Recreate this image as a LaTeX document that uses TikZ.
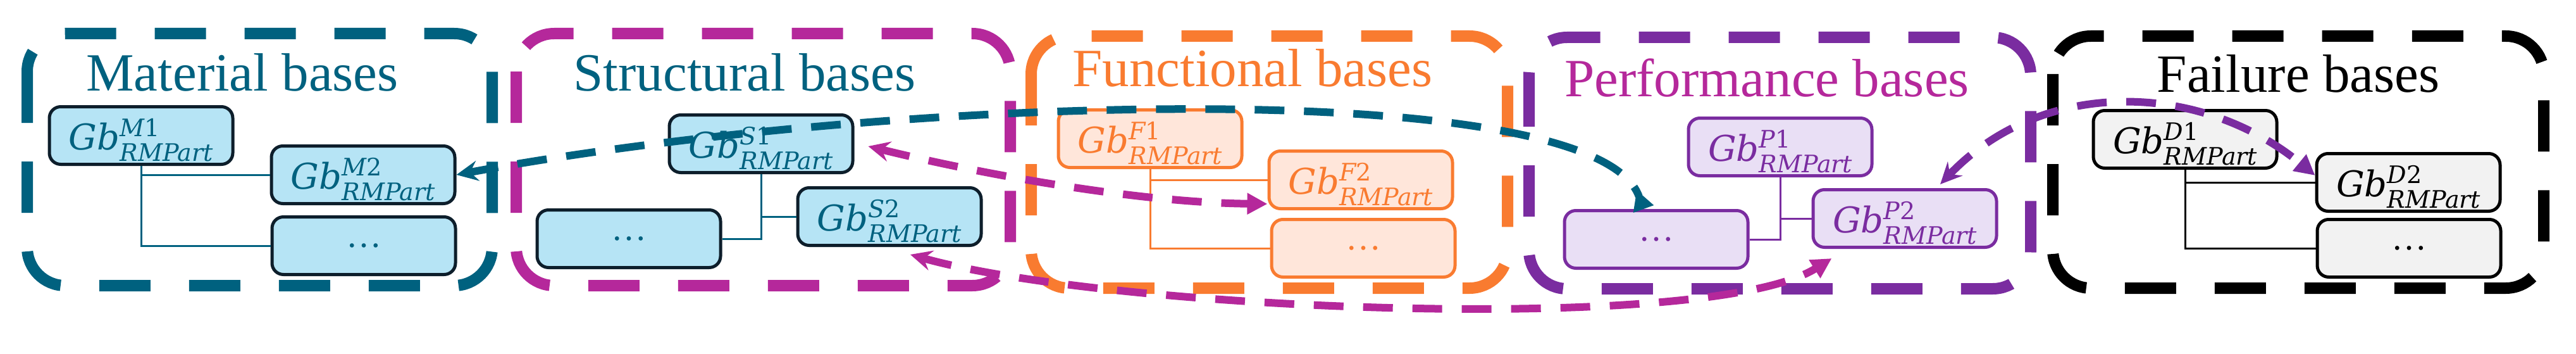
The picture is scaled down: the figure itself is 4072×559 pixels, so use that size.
\documentclass[tikz,border=0pt]{standalone}
\usepackage{fontspec}
\setmainfont{Liberation Serif}
\newfontfamily\gbfont{DejaVu Serif}
\usetikzlibrary{arrows.meta}

\definecolor{tealc}{HTML}{00617F}
\definecolor{magc}{HTML}{B5289B}
\definecolor{orgc}{HTML}{F97B30}
\definecolor{purc}{HTML}{7A2CA0}
\definecolor{navyc}{HTML}{0D1E2B}
\definecolor{bluefill}{HTML}{B6E4F5}
\definecolor{orgfill}{HTML}{FFE6DA}
\definecolor{purfill}{HTML}{E9DFF5}
\definecolor{greyfill}{HTML}{F2F2F2}

% Gb with superscript (letter, digit) and subscript RMPart
\newcommand{\gbsym}[2]{{\gbfont\fontsize{56}{60}\selectfont\itshape Gb\fontsize{38}{40}\selectfont
    \rlap{\raisebox{21pt}{#1\upshape #2}}\raisebox{-18pt}{RMPart}}}

\begin{document}
\begin{tikzpicture}[x=1pt, y=-1pt,
    group/.style={line width=18pt, dash pattern=on 81pt off 61pt, rounded corners=60pt},
    title/.style={font=\fontsize{85}{100}\selectfont, anchor=base, inner sep=0pt},
    basebox/.style={rounded corners=18pt, minimum width=290pt, minimum height=91pt,
        inner sep=0pt, line width=5pt, font=\fontsize{56}{60}\selectfont},
    gbbox/.style={basebox, text height=44pt, text depth=0pt},
    matbox/.style={fill=bluefill, draw=navyc, text=tealc},
    funbox/.style={fill=orgfill, draw=orgc, text=orgc},
    perbox/.style={fill=purfill, draw=purc, text=purc},
    failbox/.style={fill=greyfill, draw=black, text=black},
    tree/.style={line width=3pt},
    link/.style={line width=12pt, dash pattern=on 47pt off 31pt},
    linktips/.style={arrows={Stealth[length=34pt, width=32pt, inset=12pt]-Triangle[length=32pt, width=32pt]}}
]
    \useasboundingbox (0,0) rectangle (4072,559);

    % Material bases
    \draw[group, tealc] (43,53) rectangle (778,451);
    \node[title, tealc] (tMat) at (383,143) {Material bases};
    \node[gbbox, matbox] (M1) at (223,214) {\gbsym{M}{1}};
    \node[gbbox, matbox] (M2) at (574,276) {\gbsym{M}{2}};
    \node[basebox, matbox] (M3) at (575,388) {\dots};
    \draw[tree, tealc] (M1.south) |- (M2.west);
    \draw[tree, tealc] (M1.south) |- (M3.west);

    % Structural bases
    \draw[group, magc] (816,53) rectangle (1597,451);
    \node[title, tealc] (tStr) at (1177,143) {Structural bases};
    \node[gbbox, matbox] (S1) at (1203,227) {\gbsym{S}{1}};
    \node[gbbox, matbox] (S2) at (1406,342) {\gbsym{S}{2}};
    \node[basebox, matbox] (S3) at (994,377) {\dots};
    \draw[tree, tealc] (S1.south) |- (S2.west);
    \draw[tree, tealc] (S1.south) |- (S3.east);

    % Functional bases
    \draw[group, orgc] (1630,57) rectangle (2383,455);
    \node[title, orgc] (tFun) at (1980,137) {Functional bases};
    \node[gbbox, funbox] (F1) at (1818,219) {\gbsym{F}{1}};
    \node[gbbox, funbox] (F2) at (2151,284) {\gbsym{F}{2}};
    \node[basebox, funbox] (F3) at (2155,392) {\dots};
    \draw[tree, orgc] (F1.south) |- (F2.west);
    \draw[tree, orgc] (F1.south) |- (F3.west);

    % Performance bases
    \draw[group, purc] (2417,59) rectangle (3210,456);
    \node[title, magc] (tPer) at (2793,153) {Performance bases};
    \node[gbbox, perbox] (P1) at (2814,232) {\gbsym{P}{1}};
    \node[gbbox, perbox] (P2) at (3011,345) {\gbsym{P}{2}};
    \node[basebox, perbox] (P3) at (2618,378) {\dots};
    \draw[tree, purc] (P1.south) |- (P2.west);
    \draw[tree, purc] (P1.south) |- (P3.east);

    % Failure bases
    \draw[group, black] (3245,57) rectangle (4021,455);
    \node[title, black] (tFail) at (3633,146) {Failure bases};
    \node[gbbox, failbox] (D1) at (3454,220) {\gbsym{D}{1}};
    \node[gbbox, failbox] (D2) at (3807,288) {\gbsym{D}{2}};
    \node[basebox, failbox] (D3) at (3808,392) {\dots};
    \draw[tree, black] (D1.south) |- (D2.west);
    \draw[tree, black] (D1.south) |- (D3.west);

    % Links between the bases (drawn last, on top)
    \draw[link, tealc, arrows={Stealth[length=34pt, width=32pt, inset=12pt]-Triangle[reversed, length=32pt, width=32pt]}]
        (M2.east) .. controls (1400,150) and (2520,115) .. ([xshift=-20pt]P3.north);
    \draw[link, magc, linktips]
        ([xshift=22pt, yshift=-4pt]S1.east) .. controls (1550,275) and (1800,320) .. ([yshift=-38pt]F2.west);
    \draw[link, magc, linktips]
        ([xshift=33pt, yshift=-12pt]S2.south) .. controls (1750,490) and (2700,530) .. ([xshift=32pt, yshift=-15pt]P2.south west);
    \draw[link, purc, linktips]
        ([xshift=56pt, yshift=6pt]P2.north) .. controls (3230,120) and (3480,130) .. ([yshift=11pt]D2.west);
\end{tikzpicture}
\end{document}
